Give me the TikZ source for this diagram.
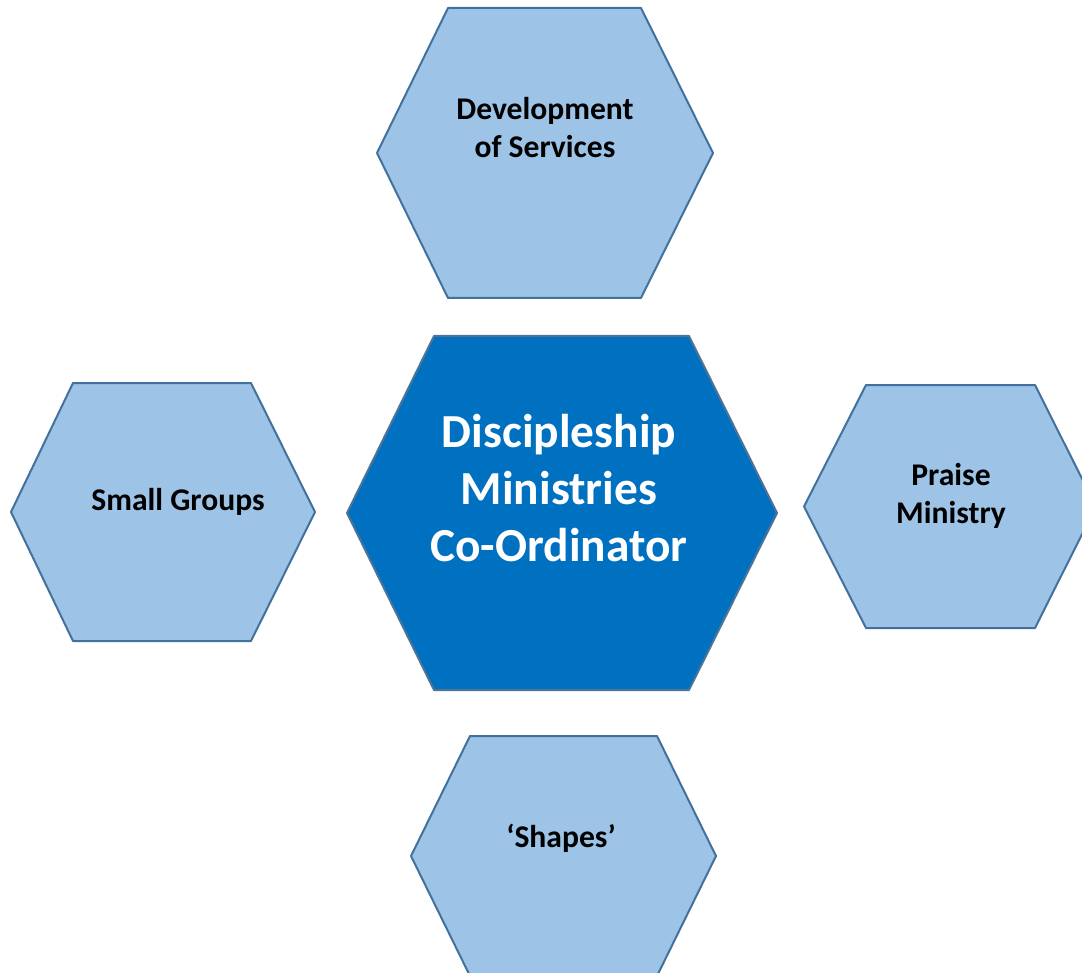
\documentclass[tikz,border=0pt]{standalone}
\usepackage{fontspec}
\setmainfont{Carlito}
\definecolor{hexlight}{RGB}{157,195,230}
\definecolor{hexdark}{RGB}{0,112,192}
\definecolor{hexedge}{RGB}{65,113,156}
\tikzset{
	hexa/.style={draw=hexedge, fill=hexlight, line width=1pt, line join=round},
	hexmain/.style={hexa, fill=hexdark, draw=hexedge!80!gray},
	sidetext/.style={align=center, font=\fontsize{15.8}{19}\selectfont\bfseries},
	maintext/.style={align=center, text=white, font=\fontsize{23.7}{28.5}\selectfont\bfseries}
}

\begin{document}
\begin{tikzpicture}[x=0.5pt,y=-0.5pt]
			\useasboundingbox (0,0) rectangle (1082,973);
			\clip (0,0) rectangle (1082,973);
			
			% outer hexagons: left, top-left, top-right, right, top, bottom
			\foreach \l/\a/\b/\r/\t/\u in {377/448/641/713/8/298, 11/73/251/315/383/641, 804/866/1035/1096/385/628, 411/470/657/716/736/976} {
				\filldraw[hexa] (\l,{(\t+\u)/2}) -- (\a,\t) -- (\b,\t) -- (\r,{(\t+\u)/2}) -- (\b,\u) -- (\a,\u) -- cycle;
			}
			
			% centre hexagon
			\filldraw[hexmain] (347,513) -- (434,336) -- (689,336) -- (777,513) -- (689,690) -- (434,690) -- cycle;
			
			\node[maintext] (coord) at (559,488) {Discipleship\\Ministries\\Co-Ordinator};
			\node[sidetext] (services) at (545,128) {Development\\of Services};
			\node[sidetext, anchor=base] (groups) at (178,510) {Small Groups};
			\node[sidetext] (praise) at (951,496) {Praise\\Ministry};
			\node[sidetext, anchor=base] (shapes) at (561,847) {‘Shapes’};
		\end{tikzpicture}
\end{document}
